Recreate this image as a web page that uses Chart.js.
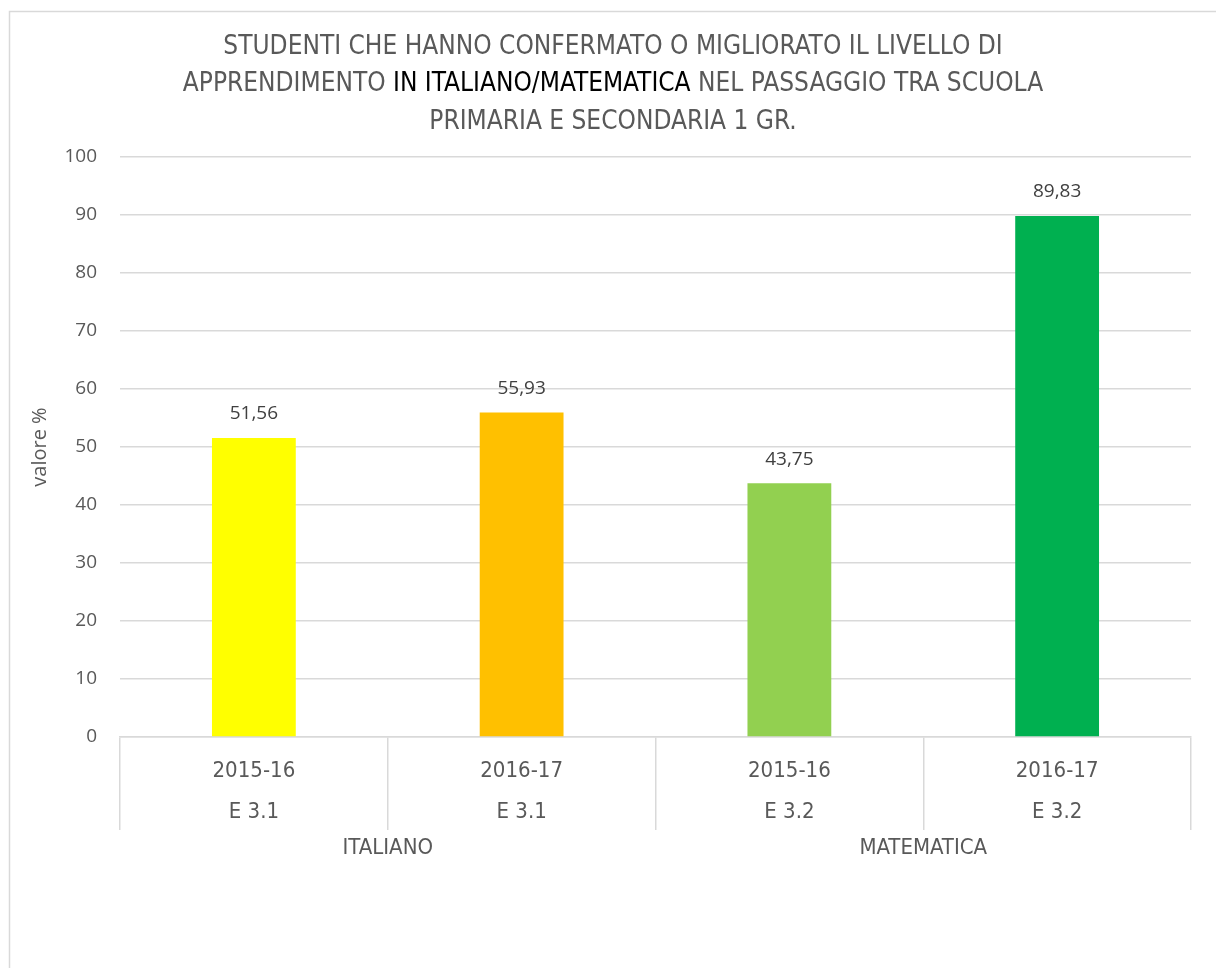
<!DOCTYPE html>
<html>
<head>
<meta charset="utf-8">
<script src="https://cdn.jsdelivr.net/npm/chart.js@4.4.1/dist/chart.umd.min.js"></script>
<style>
  html, body { margin: 0; padding: 0; background: #fff; }
  canvas { display: block; }
</style>
</head>
<body>
<canvas id="chart" width="1216" height="968"></canvas>
<script>
// data
const years = ['2015-16', '2016-17', '2015-16', '2016-17'];
const codes = ['E 3.1', 'E 3.1', 'E 3.2', 'E 3.2'];
const groups = ['ITALIANO', 'MATEMATICA'];
const values = [51.56, 55.93, 43.75, 89.83];
const barColors = ['#FFFF00', '#FFC000', '#92D050', '#00B050'];
const yTicks = [0, 10, 20, 30, 40, 50, 60, 70, 80, 90, 100];

const gray = '#595959';
const narrow = "'Liberation Sans Narrow', 'DejaVu Sans Condensed', sans-serif";
const wide = "'Open Sans', sans-serif";

const titleLines = [
	[['STUDENTI CHE HANNO CONFERMATO O MIGLIORATO IL LIVELLO DI', gray]],
	[['APPRENDIMENTO ', gray], ['IN ITALIANO/MATEMATICA', '#000'], [' NEL PASSAGGIO TRA SCUOLA', gray]],
	[['PRIMARIA E SECONDARIA 1 GR.', gray]],
];

const frame = {
	id: 'frame',
	beforeDraw(chart) {
		const c = chart.ctx;
		c.save();
		c.fillStyle = '#fff';
		c.fillRect(0, 0, chart.width, chart.height);
		c.strokeStyle = '#d9d9d9';
		c.lineWidth = 1.5;
		c.beginPath();
		c.moveTo(9.5, chart.height + 5);
		c.lineTo(9.5, 11.5);
		c.lineTo(chart.width + 5, 11.5);
		c.stroke();
		c.restore();
	},
	afterDraw(chart) {
		const c = chart.ctx;
		c.save();
		// title, middle line partly black
		c.font = '26px ' + narrow;
		c.textBaseline = 'middle';
		c.textAlign = 'left';
		const cx = 613;
		titleLines.forEach((parts, i) => {
			const total = parts.reduce((w, p) => w + c.measureText(p[0]).width, 0);
			let x = cx - total / 2;
			parts.forEach(p => {
				c.fillStyle = p[1];
				c.fillText(p[0], x, 47 + i * 37.5);
				x += c.measureText(p[0]).width;
			});
		});
		// value labels above bars
		c.font = '19px ' + wide;
		c.fillStyle = '#404040';
		c.textAlign = 'center';
		chart.getDatasetMeta(0).data.forEach((bar, i) => {
			c.fillText(values[i].toFixed(2).replace('.', ','), bar.x, bar.y - 24);
		});
		// group labels under the category axis
		const xs = chart.scales.x;
		c.font = '22px ' + narrow;
		c.fillStyle = gray;
		groups.forEach((g, i) => {
			const x = (xs.getPixelForValue(i * 2) + xs.getPixelForValue(i * 2 + 1)) / 2;
			c.fillText(g, x, 848);
		});
		c.restore();
	}
};

new Chart(document.getElementById('chart'), {
	type: 'bar',
	data: {
		labels: years.map((y, i) => [y, codes[i]]),
		datasets: [{
			data: values,
			backgroundColor: barColors,
			barPercentage: 0.313,
			categoryPercentage: 1,
		}],
	},
	options: {
		responsive: false,
		animation: false,
		layout: { padding: { top: 157, right: 25, left: 0, bottom: 0 } },
		plugins: {
			legend: { display: false },
			tooltip: { enabled: false },
		},
		scales: {
			x: {
				grid: { offset: true, drawOnChartArea: false, tickLength: 93, color: '#d9d9d9', lineWidth: 1.5 },
				border: { color: '#d9d9d9', width: 1.5 },
				ticks: {
					color: gray,
					font: { family: narrow, size: 22, lineHeight: 1.9 },
					padding: -80,
					maxRotation: 0,
					autoSkip: false,
				},
				afterFit: s => { s.height = 231; },
			},
			y: {
				min: 0,
				max: 100,
				afterBuildTicks: s => { s.ticks = yTicks.map(v => ({ value: v })); },
				ticks: { color: gray, font: { family: wide, size: 19 }, padding: 23 },
				grid: { color: '#d9d9d9', lineWidth: 1.5, drawTicks: false },
				border: { display: false },
				title: {
					display: true,
					text: 'valore %',
					color: gray,
					font: { family: wide, size: 20 },
					padding: { top: 28, bottom: 0 },
				},
				afterFit: s => { s.width = 120; },
			},
		},
	},
	plugins: [frame],
});
</script>
</body>
</html>
